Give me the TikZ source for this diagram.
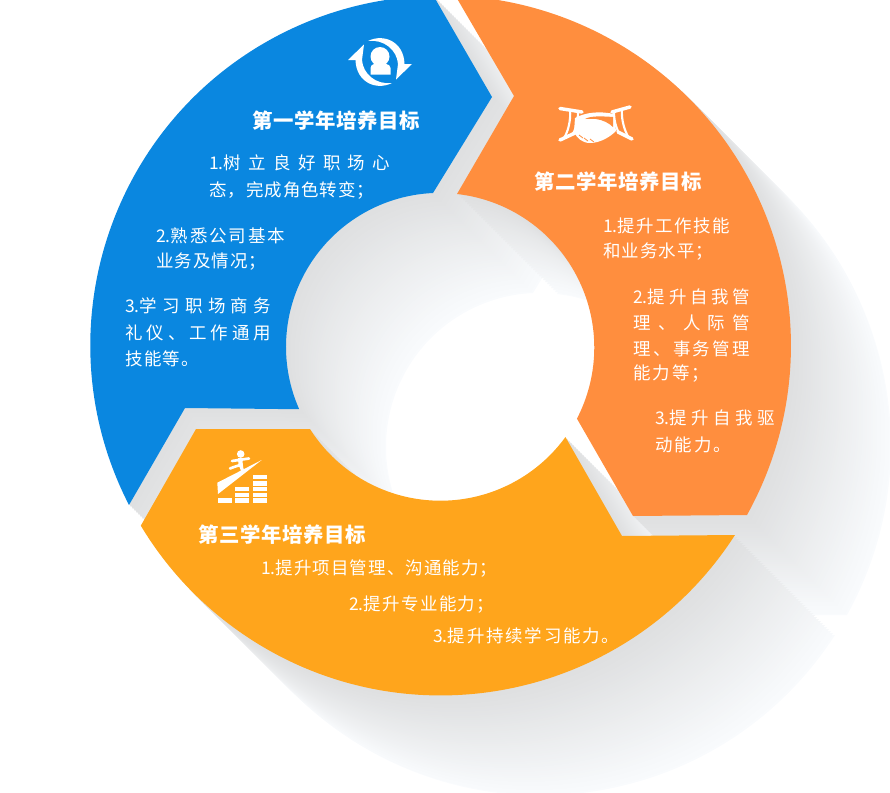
\documentclass[tikz,border=0pt]{standalone}
\usepackage{fontspec}
\usepackage{xcolor}
\newfontfamily\cnfont{Noto Sans CJK SC}
\newlength{\pxunit}
\setlength{\pxunit}{0.75pt}
\newcommand{\fitline}[2]{\makebox[#1\pxunit][s]{\spaceskip=0pt plus 1fil\relax #2}}
\definecolor{bluepart}{HTML}{0A87E0}
\definecolor{orangepart}{HTML}{FF8E3E}
\definecolor{yellowpart}{HTML}{FFA51C}
\definecolor{shadownear}{HTML}{DEDFE0}
\definecolor{shadowfar}{HTML}{F9FBFD}
% the three parts of the ring
\newcommand{\bluepart}{(433,-5) -- (492,97) -- (433,193) arc[start angle=267.4, end angle=156.1, radius=154] -- (185,408) -- (129,505) arc[start angle=152.8, end angle=268.8, radius=349.5] -- cycle}
\newcommand{\orangepart}{(455,-5) -- (514,96) -- (457,194) arc[start angle=276.4, end angle=387.4, radius=154.5] -- (633,516) -- (747,515) arc[start angle=29, end angle=-87.6, radius=350] -- cycle}
\newcommand{\yellowpart}{(196,429) -- (310,429) arc[start angle=147.6, end angle=36, radius=154.5] -- (622,536) -- (735,535) arc[start angle=32.8, end angle=149, radius=350] -- cycle}
\begin{document}
\begin{tikzpicture}[
        x=0.75pt, y=0.75pt, yscale=-1,
        titleline/.style={anchor=west, inner sep=0pt, text=white, font=\cnfont\bfseries\fontsize{15.3}{18}\selectfont},
        bodyline/.style={anchor=west, inner sep=0pt, text=white, font=\cnfont\fontsize{13.1}{16}\selectfont},
        iconline/.style={draw=white, line width=2.6pt, line cap=round}
    ]
    \useasboundingbox (0,0) rectangle (890,793);
    \clip (0,0) rectangle (890,793);

    % shadows, far copies first
    \foreach \k in {50,...,1} {
        \pgfmathtruncatemacro{\pct}{2*\k}
        \colorlet{shadowstep}{shadowfar!\pct!shadownear}
        \fill[shadowstep, shift={(2*\k,2*\k)}] \bluepart;
        \fill[shadowstep, shift={(2*\k,2*\k)}] \orangepart;
        \fill[shadowstep, shift={(2*\k,2*\k)}] \yellowpart;
    }

    % ring
    \fill[bluepart] \bluepart;
    \fill[orangepart] \orangepart;
    \fill[yellowpart] \yellowpart;

    % first icon
    \fill[white] (380,56.5) circle (9.5);
    \fill[white] (370.5,74.5) -- (370.5,68) .. controls (371,63) and (376,64) .. (380,64) .. controls (384,64) and (390,63) .. (390.5,68) -- (390.5,74.5) -- cycle;
    \foreach \a in {0,180} {
        \fill[white, rotate around={\a:(380,62)}] (368,41) .. controls (384,33) and (404,42) .. (404.5,64) -- (412,64) -- (396,79.5) -- (398,64) .. controls (397,50) and (384,39) .. (368,41) -- cycle;
    }

    % second icon
    \draw[iconline] (560,108.5) -- (582,112);
    \draw[iconline] (630,107) -- (612,112);
    \draw[iconline] (560,140) -- (575,133);
    \draw[iconline] (632,139) -- (618,132);
    \draw[iconline, line width=1.6pt] (570,110) .. controls (571,120) and (568,132) .. (564,138);
    \draw[iconline, line width=1.6pt] (578,112) .. controls (578,120) and (576,130) .. (572,135);
    \draw[iconline, line width=1.6pt] (622,109) .. controls (621,120) and (625,132) .. (629,138);
    \draw[iconline, line width=1.6pt] (614,112) .. controls (614,120) and (616,128) .. (619,133);
    \fill[white] (575,118) .. controls (586,112) and (600,111) .. (614,114) -- (616,131) .. controls (610,137) and (600,143) .. (590,143) .. controls (582,143) and (577,138) .. (574,132) -- cycle;
    \fill[orangepart] (585,119) .. controls (590,116) and (600,116) .. (613,117) -- (613,127) .. controls (609,123) and (603,120) .. (596,119) .. controls (592,118.5) and (588,119) .. (585,119) -- cycle;
    \draw[orangepart, line width=0.6pt] (579,135) -- (583,138);
    \draw[orangepart, line width=0.6pt] (584,138) -- (588,141);
    \draw[orangepart, line width=0.6pt] (590,139) -- (594,142);

    % third icon
    \fill[white] (240.7,454) circle (3.8);
    \draw[iconline, line width=3.2pt, line cap=butt] (240,458) -- (241,467);
    \draw[iconline, line width=2pt] (232,461) -- (249,458.5);
    \draw[iconline, line width=2pt] (240,465) -- (234,467) -- (230,468.5);
    \draw[iconline, line width=2.4pt] (241,466) -- (243,472);
    \fill[white] (217.3,482.7) -- (261.7,460) -- (218,494) -- cycle;
    \fill[white] (217.7,498.3) rectangle (232,502.8);
    \foreach \ya/\yb in {487.3/491.3, 492.7/496.7, 498.3/503} {
        \fill[white] (235,\ya) rectangle (249.3,\yb);
    }
    \foreach \ya/\yb in {475/479.3, 481.3/485.7, 487.3/491.3, 492.7/496.7, 498.3/503} {
        \fill[white] (252.7,\ya) rectangle (266.8,\yb);
    }

    % first year
    \node[titleline] (blue title) at (252,121) {\fitline{168}{第 一 学 年 培 养 目 标}};
    \node[bodyline] (blue a) at (209,163) {\fitline{181}{1.树 立 良 好 职 场 心}};
    \node[bodyline] (blue b) at (209,190) {\fitline{165}{态 ， 完 成 角 色 转 变 ；}};
    \node[bodyline] (blue c) at (156,236) {\fitline{129}{2.熟 悉 公 司 基 本}};
    \node[bodyline] (blue d) at (156,262) {\fitline{110}{业 务 及 情 况 ；}};
    \node[bodyline] (blue e) at (125,306) {\fitline{146}{3.学 习 职 场 商 务}};
    \node[bodyline] (blue f) at (125,333) {\fitline{146}{礼 仪 、 工 作 通 用}};
    \node[bodyline] (blue g) at (125,359) {\fitline{74}{技 能 等 。}};

    % second year
    \node[titleline] (orange title) at (534,182) {\fitline{168}{第 二 学 年 培 养 目 标}};
    \node[bodyline] (orange a) at (603,226) {\fitline{127}{1.提 升 工 作 技 能}};
    \node[bodyline] (orange b) at (603,252) {\fitline{110}{和 业 务 水 平 ；}};
    \node[bodyline] (orange c) at (633,297) {\fitline{117}{2.提 升 自 我 管}};
    \node[bodyline] (orange d) at (633,323) {\fitline{117}{理 、 人 际 管}};
    \node[bodyline] (orange e) at (633,349) {\fitline{117}{理 、 事 务 管 理}};
    \node[bodyline] (orange f) at (633,374) {\fitline{76}{能 力 等 ；}};
    \node[bodyline] (orange g) at (655,418) {\fitline{120}{3.提 升 自 我 驱}};
    \node[bodyline] (orange h) at (655,445) {\fitline{76}{动 能 力 。}};

    % third year
    \node[titleline] (yellow title) at (198,535) {\fitline{168}{第 三 学 年 培 养 目 标}};
    \node[bodyline] (yellow a) at (261,569) {\fitline{236}{1.提 升 项 目 管 理 、 沟 通 能 力 ；}};
    \node[bodyline] (yellow b) at (349,605) {\fitline{145}{2.提 升 专 业 能 力 ；}};
    \node[bodyline] (yellow c) at (433,636) {\fitline{186}{3.提 升 持 续 学 习 能 力 。}};

\end{tikzpicture}
\end{document}
